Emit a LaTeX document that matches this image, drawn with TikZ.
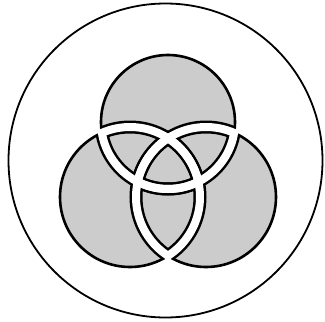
\documentclass[tikz,border=0pt]{standalone}
\usepackage{xcolor}
\definecolor{venngray}{RGB}{204,204,204}

\begin{document}
\begin{tikzpicture}[
  x=1pt, y=-1pt,
  frame/.style={draw=black, line width=1.8pt},
  outline/.style={draw=black, line width=2.6pt},
  bandedge/.style={draw=black, line width=13pt},
  bandfill/.style={draw=white, line width=8pt}
]
\useasboundingbox (0,0) rectangle (325,322);

\coordinate (ctop) at (168,122);
\coordinate (cleft) at (130,197);
\coordinate (cright) at (206,197);

\draw[frame] (165.5,160.5) circle (157pt);

% gray disks
\fill[venngray] (ctop) circle (67pt) (cleft) circle (70pt) (cright) circle (70pt);

% black edges of the bands, only inside the other disks
\begin{scope} \clip (cleft) circle (70pt); \draw[bandedge] (ctop) circle (67pt); \end{scope}
\begin{scope} \clip (cright) circle (70pt); \draw[bandedge] (ctop) circle (67pt); \end{scope}
\begin{scope} \clip (ctop) circle (67pt); \draw[bandedge] (cleft) circle (70pt); \end{scope}
\begin{scope} \clip (cright) circle (70pt); \draw[bandedge] (cleft) circle (70pt); \end{scope}
\begin{scope} \clip (ctop) circle (67pt); \draw[bandedge] (cright) circle (70pt); \end{scope}
\begin{scope} \clip (cleft) circle (70pt); \draw[bandedge] (cright) circle (70pt); \end{scope}

% outer outlines
\draw[outline] (ctop) circle (67pt);
\draw[outline] (cleft) circle (70pt);
\draw[outline] (cright) circle (70pt);

% white bands
\begin{scope} \clip (cleft) circle (72pt); \draw[bandfill] (ctop) circle (67pt); \end{scope}
\begin{scope} \clip (cright) circle (72pt); \draw[bandfill] (ctop) circle (67pt); \end{scope}
\begin{scope} \clip (ctop) circle (69pt); \draw[bandfill] (cleft) circle (70pt); \end{scope}
\begin{scope} \clip (cright) circle (72pt); \draw[bandfill] (cleft) circle (70pt); \end{scope}
\begin{scope} \clip (ctop) circle (69pt); \draw[bandfill] (cright) circle (70pt); \end{scope}
\begin{scope} \clip (cleft) circle (72pt); \draw[bandfill] (cright) circle (70pt); \end{scope}

\end{tikzpicture}
\end{document}
